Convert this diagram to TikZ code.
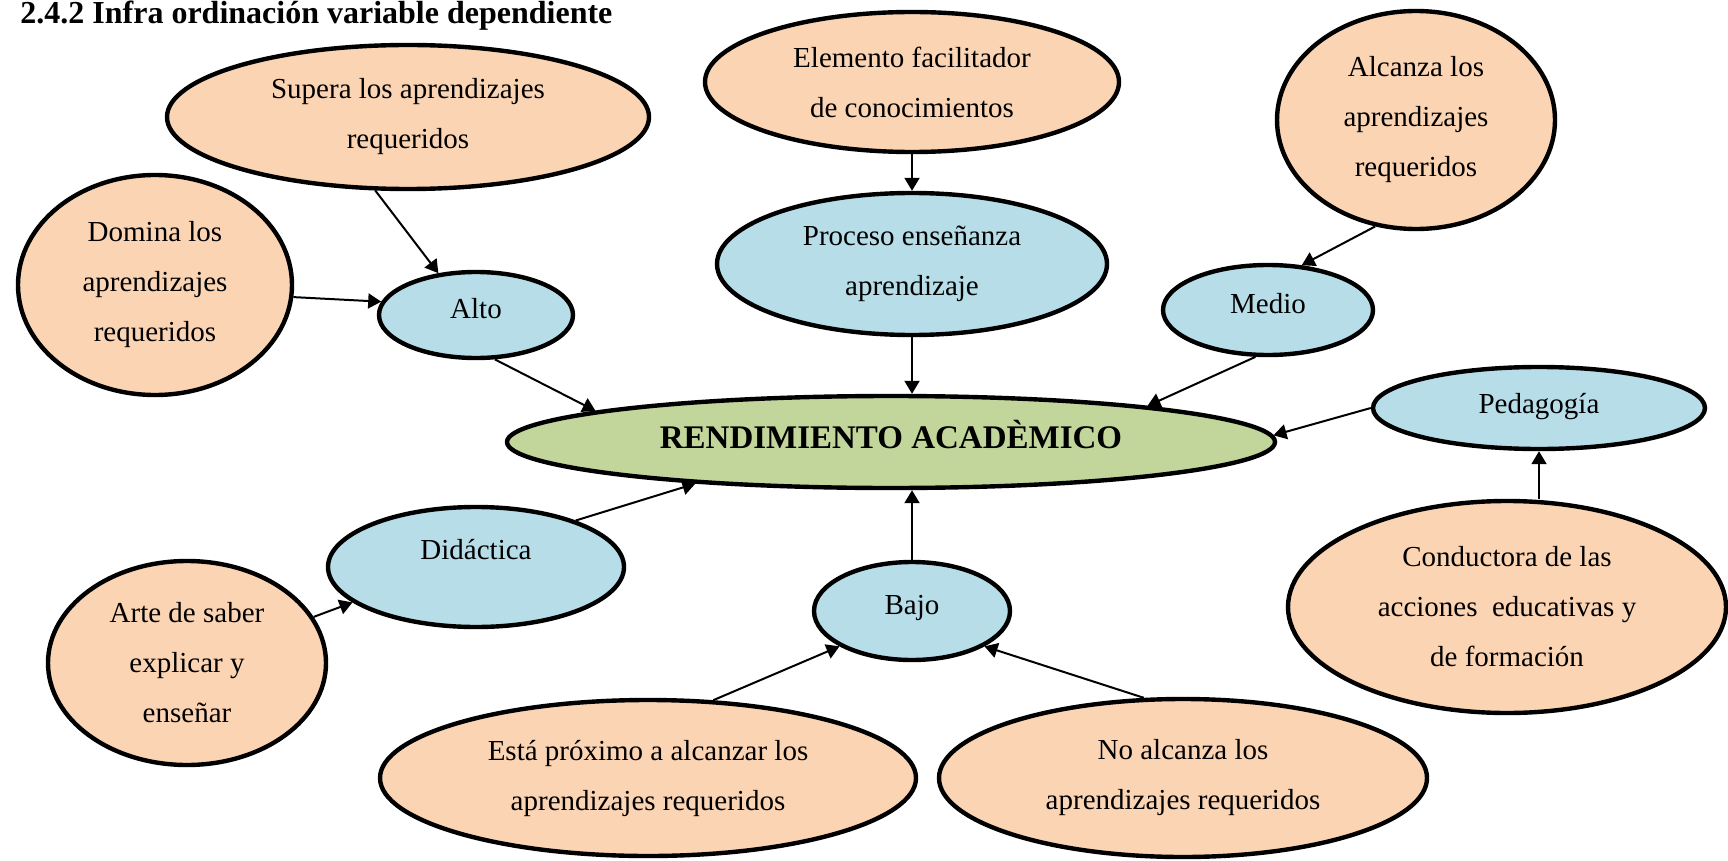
\documentclass[tikz,border=0pt]{standalone}
\usepackage{fontspec}
\setmainfont{Liberation Serif}
\usetikzlibrary{arrows.meta,shapes.geometric}
\definecolor{naranja}{HTML}{FBD4B4}
\definecolor{celeste}{HTML}{B6DDE8}
\definecolor{verde}{HTML}{C2D69B}

\begin{document}
\begin{tikzpicture}[x=0.5pt, y=-0.5pt,
    hoja/.style={draw, ellipse, line width=2.2pt, fill=naranja, inner sep=0pt, align=center, font=\fontsize{14.5}{25}\selectfont},
    nivel/.style={hoja, fill=celeste},
    unalinea/.style={text height=10pt, text depth=7pt},
    flecha/.style={-{Triangle[length=6.5pt,width=7.5pt]}, line width=1pt}]
    \useasboundingbox (0,0) rectangle (1728,861);

    % Title
    \node[anchor=base west, inner sep=0pt, font=\fontsize{16}{19}\selectfont\bfseries] (titulo) at (20,24) {2.4.2 Infra ordinación variable dependiente};

    % Central concept
    \node[nivel, fill=verde, minimum width=384pt, minimum height=46pt, font=\fontsize{16.5}{20}\selectfont\bfseries, text height=11.5pt, text depth=5.5pt] (rend) at (891,442) {RENDIMIENTO ACADÈMICO};

    % Levels and dimensions
    \node[nivel, unalinea, minimum width=97pt, minimum height=43pt] (alto) at (476,315) {Alto};
    \node[nivel, minimum width=195pt, minimum height=71pt] (proceso) at (912,264) {Proceso enseñanza\\aprendizaje};
    \node[nivel, unalinea, minimum width=105pt, minimum height=45pt] (medio) at (1268,310) {Medio};
    \node[nivel, unalinea, text depth=5pt, minimum width=166pt, minimum height=41pt] (pedagogia) at (1539,408) {Pedagogía};
    \node[nivel, text depth=18pt, minimum width=148pt, minimum height=60pt] (didactica) at (476,567) {Didáctica};
    \node[nivel, unalinea, minimum width=98pt, minimum height=49pt] (bajo) at (912,611) {Bajo};

    % Descriptions
    \node[hoja, minimum width=241pt, minimum height=72pt] (supera) at (408,117) {Supera los aprendizajes\\requeridos};
    \node[hoja, minimum width=137pt, minimum height=110pt] (domina) at (155,285) {Domina los\\aprendizajes\\requeridos};
    \node[hoja, minimum width=207pt, minimum height=70pt] (elemento) at (912,82) {Elemento facilitador\\de conocimientos};
    \node[hoja, minimum width=139pt, minimum height=109pt] (alcanza) at (1416,120) {Alcanza los\\aprendizajes\\requeridos};
    \node[hoja, minimum width=219pt, minimum height=106pt] (conductora) at (1507,607) {Conductora de las\\acciones \ educativas y\\de formación};
    \node[hoja, minimum width=139pt, minimum height=102pt] (arte) at (187,663) {Arte de saber\\explicar y\\enseñar};
    \node[hoja, minimum width=268pt, minimum height=78pt] (esta) at (648,778) {Está próximo a alcanzar los\\aprendizajes requeridos};
    \node[hoja, minimum width=244pt, minimum height=79pt] (noalcanza) at (1183,778) {No alcanza los\\aprendizajes requeridos};

    % Arrows
    \draw[flecha] (supera.246) -- (alto.132);
    \draw[flecha] (domina.-5) -- (alto.172);
    \draw[flecha] (alto.-67) -- (rend.174.5);
    \draw[flecha] (elemento.south) -- (proceso.north);
    \draw[flecha] (proceso.south) -- (proceso.south |- rend.north);
    \draw[flecha] (alcanza.-111) -- (medio.53);
    \draw[flecha] (medio.-105) -- (rend.8);
    \draw[flecha] (pedagogia.west) -- (rend.1.8);
    \draw[flecha] (conductora.north -| pedagogia.south) -- (pedagogia.south);
    \draw[flecha] (didactica.25) -- (rend.192);
    \draw[flecha] (arte.20) -- (didactica.196);
    \draw[flecha] (bajo.north) -- (bajo.north |- rend.south);
    \draw[flecha] (esta.50) -- (bajo.206);
    \draw[flecha] (noalcanza.116) -- (bajo.-26);
\end{tikzpicture}
\end{document}
